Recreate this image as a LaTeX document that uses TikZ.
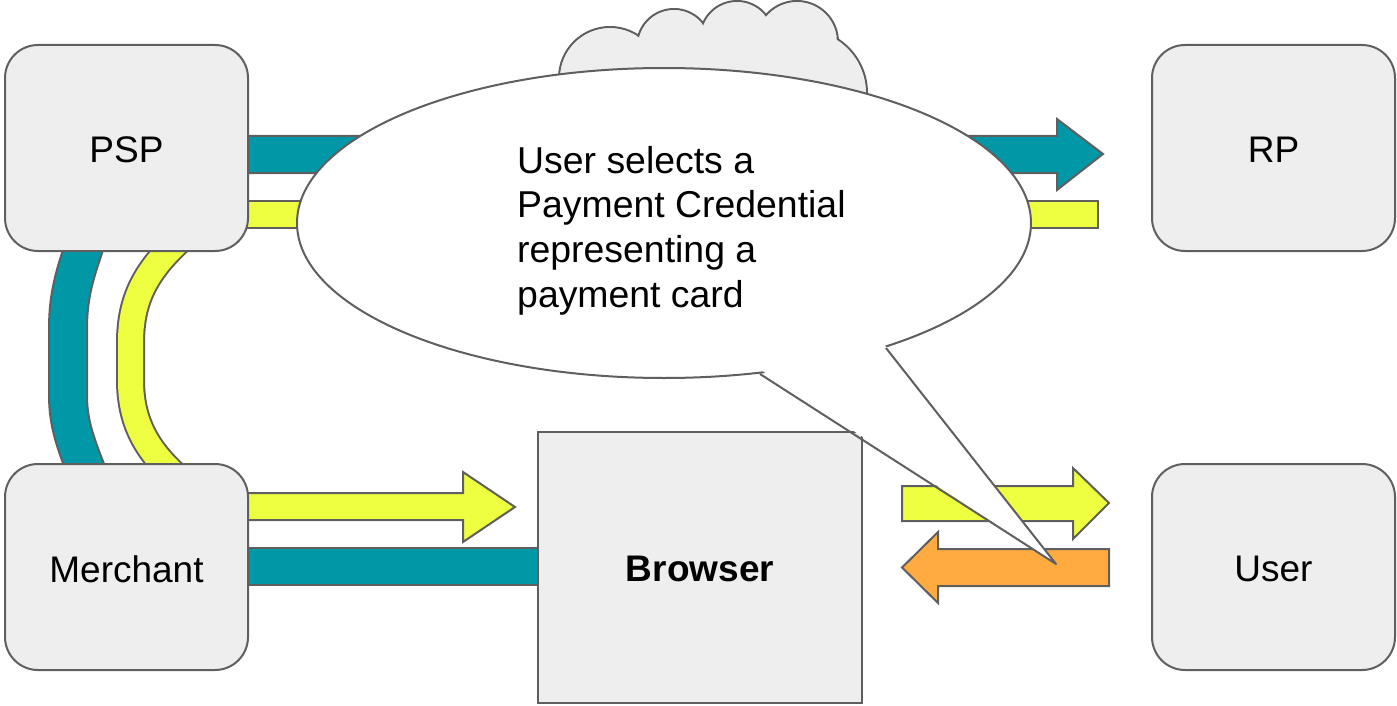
\documentclass[tikz,border=0pt]{standalone}
\usepackage{fontspec}
\setmainfont{Liberation Sans}
\begin{document}
\begin{tikzpicture}[x=1pt,y=-1pt,
  line join=miter,
  edge/.style={draw=lineGray, line width=2pt},
  box/.style={edge, fill=boxGray},
  party/.style={box, rounded corners=33pt},
  flow/.style={edge},
  lbl/.style={font=\fontsize{37pt}{40.5pt}\selectfont, inner sep=0pt}
]
\definecolor{lineGray}{HTML}{5F5F5F}
\definecolor{boxGray}{HTML}{EEEEEE}
\definecolor{tealC}{HTML}{0097A7}
\definecolor{limeC}{HTML}{EEFF41}
\definecolor{orangeC}{HTML}{FFAB40}

\useasboundingbox (0,0) rectangle (1397,706);

% cloud peeking above the speech bubble
\begin{scope}
  \foreach \cx/\cy/\r in {610/78/51, 674/46/37, 737/38/37, 797/42/41, 803/93/64}
    \draw[box] (\cx,\cy) circle[radius=\r pt];
  \foreach \cx/\cy/\r in {610/78/51, 674/46/37, 737/38/37, 797/42/41, 803/93/64}
    \fill[boxGray] (\cx,\cy) circle[radius=\r pt - 1.3pt];
  \fill[boxGray] (610,78) -- (674,46) -- (737,38) -- (797,42) -- (803,93) -- (610,125) -- cycle;
\end{scope}

% curved bands between PSP and Merchant
\draw[lineGray, line width=40pt] (90,230) .. controls (74,275) and (68,295) .. (68,330)
  -- (68,395) .. controls (68,425) and (76,445) .. (92,485);
\draw[tealC, line width=36pt] (90,230) .. controls (74,275) and (68,295) .. (68,330)
  -- (68,395) .. controls (68,425) and (76,445) .. (92,485);
\draw[lineGray, line width=29pt] (185,235) .. controls (145,270) and (130.5,300) .. (130.5,343)
  -- (130.5,380) .. controls (130.5,420) and (145,450) .. (180,480);
\draw[limeC, line width=25pt] (185,235) .. controls (145,270) and (130.5,300) .. (130.5,343)
  -- (130.5,380) .. controls (130.5,420) and (145,450) .. (180,480);

% PSP -> RP
\draw[flow, fill=tealC] (240,136) -- (1057,136) -- (1057,119) -- (1103,154)
  -- (1057,190) -- (1057,173) -- (240,173) -- cycle;
\draw[flow, fill=limeC] (240,201) rectangle (1098,228);

% Merchant -> Browser
\draw[flow, fill=limeC] (240,493) -- (463,493) -- (463,472) -- (515,507)
  -- (463,542) -- (463,520) -- (240,520) -- cycle;
\draw[flow, fill=tealC] (240,548) rectangle (545,585);

% Browser <-> User
\draw[flow, fill=limeC] (902,486) -- (1073,486) -- (1073,468) -- (1109,503)
  -- (1073,539) -- (1073,521) -- (902,521) -- cycle;
\draw[flow, fill=orangeC] (1109,549) -- (938,549) -- (938,532) -- (902,567.5)
  -- (938,603) -- (938,586) -- (1109,586) -- cycle;

% parties
\draw[party] (5,45) rectangle (248,251);
\node[lbl] (psp) at (126.5,149.5) {PSP};
\draw[party] (5,464) rectangle (248,670);
\node[lbl] (merchant) at (126.5,569) {Merchant};
\draw[party] (1152,45) rectangle (1395,251);
\node[lbl] (rp) at (1273.5,149.5) {RP};
\draw[party] (1152,464) rectangle (1395,670);
\node[lbl] (user) at (1273.5,569) {User};
\draw[box] (538,432) rectangle (862,703);
\node[lbl, font=\fontsize{37pt}{40.5pt}\selectfont\bfseries] (browser) at (700,569) {Browser};

% speech bubble
\coordinate (tailA) at (760,374);
\coordinate (tailB) at (886,348);
\coordinate (tailTip) at (1056,564);
\draw[edge, fill=white] (664,223) ellipse[x radius=367pt, y radius=155pt];
\fill[white] (758,368) -- (tailTip) -- (883,343) -- cycle;
\draw[edge, line join=round] (tailA) -- (tailTip) -- (tailB);
\node[lbl, font=\fontsize{37.4pt}{44.8pt}\selectfont, anchor=base west, align=left]
  (note) at (517,307.4)
  {User selects a\\Payment Credential\\representing a\\payment card};
\end{tikzpicture}
\end{document}
